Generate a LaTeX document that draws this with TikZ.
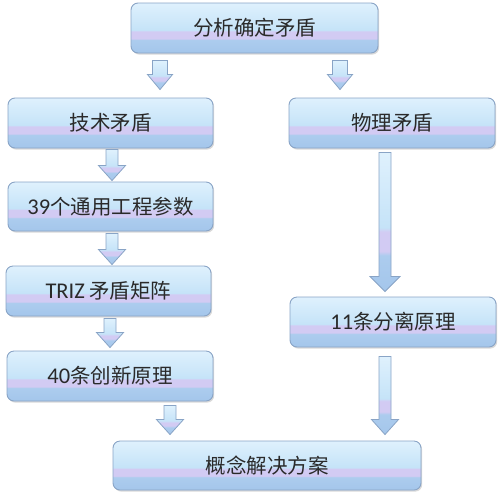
\documentclass[tikz,border=0pt]{standalone}
\usepackage{fontspec}
\usetikzlibrary{shadows,calc}
\newfontfamily\cjk{Noto Sans CJK SC}
\newfontfamily\latfont{Carlito}
\newcommand\lat{\latfont\fontsize{22.5}{24}\selectfont}
\definecolor{ctopA}{HTML}{DFF1FD}
\definecolor{ctopB}{HTML}{C5E3F8}
\definecolor{clav}{HTML}{D2CBF3}
\definecolor{cbot}{HTML}{A4C6EB}
\definecolor{cbotB}{HTML}{ACCCEE}
\definecolor{cborder}{HTML}{89A4C6}
\definecolor{ctext}{HTML}{2A2A2A}
\pgfdeclareverticalshading{bandshade}{100bp}{color(0bp)=(cbot); color(25bp)=(cbot); color(38bp)=(cbotB); color(39.5bp)=(clav); color(46.5bp)=(clav); color(48bp)=(ctopB); color(75bp)=(ctopA); color(100bp)=(ctopA)}
\tikzset{
  box/.style={rounded corners=7pt, draw=cborder, line width=0.9pt, shade, shading=bandshade,
    minimum height=50pt, inner sep=0pt, text=ctext,
    font=\cjk\fontsize{20.5}{24}\selectfont,
    drop shadow={opacity=0.3, shadow xshift=1.2pt, shadow yshift=-1.6pt}},
  arrowsty/.style={draw=cborder, line width=0.8pt, line join=miter, shade, shading=bandshade}
}
% #1 from node, #2 to node, #3 x (px), #4 top gap, #5 bottom gap, #6 half stem, #7 half head
\newcommand\blockarr[7]{%
  \path[arrowsty] let \p1=(#1.south), \p2=(#2.north) in
   ({(#3-#6)*1pt},{\y1-#4*1pt}) -- ({(#3+#6)*1pt},{\y1-#4*1pt})
   -- ({(#3+#6)*1pt},{\y2+(#5+15)*1pt}) -- ({(#3+#7)*1pt},{\y2+(#5+15)*1pt})
   -- ({#3*1pt},{\y2+#5*1pt})
   -- ({(#3-#7)*1pt},{\y2+(#5+15)*1pt}) -- ({(#3-#6)*1pt},{\y2+(#5+15)*1pt}) -- cycle;}
\begin{document}
\begin{tikzpicture}[x=1pt,y=-1pt]
\useasboundingbox (0,0) rectangle (500,496);
\node[box, minimum width=247pt] (top) at (254.5,28) {分析确定矛盾};
\node[box, minimum width=205pt] (tech) at (110.5,123) {技术矛盾};
\node[box, minimum width=206pt] (phys) at (392,123) {物理矛盾};
\node[box, minimum width=205pt, minimum height=49pt] (p39) at (110.5,206.5) {{\lat 39}个通用工程参数};
\node[box, minimum width=205pt] (triz) at (108.5,291) {{\lat TRIZ} 矛盾矩阵};
\node[box, minimum width=206pt] (p40) at (110,376) {{\lat 40}条创新原理};
\node[box, minimum width=206pt] (p11) at (393,322) {{\lat 11}条分离原理};
\node[box, minimum width=308pt, minimum height=49pt] (sol) at (267,465.5) {概念解决方案};
\blockarr{top}{tech}{160}{7}{8}{7.5}{12.5}
\blockarr{top}{phys}{340}{7}{8}{7.5}{12.5}
\blockarr{tech}{p39}{112}{1}{1}{6}{13.5}
\blockarr{p39}{triz}{112}{2}{1}{6}{13.5}
\blockarr{triz}{p40}{110}{2}{3}{6}{13.5}
\blockarr{p40}{sol}{170}{4}{6}{6}{13.5}
\blockarr{phys}{p11}{385}{4}{5}{6}{15}
\blockarr{p11}{sol}{385}{9}{6}{6}{13.5}
\end{tikzpicture}
\end{document}
